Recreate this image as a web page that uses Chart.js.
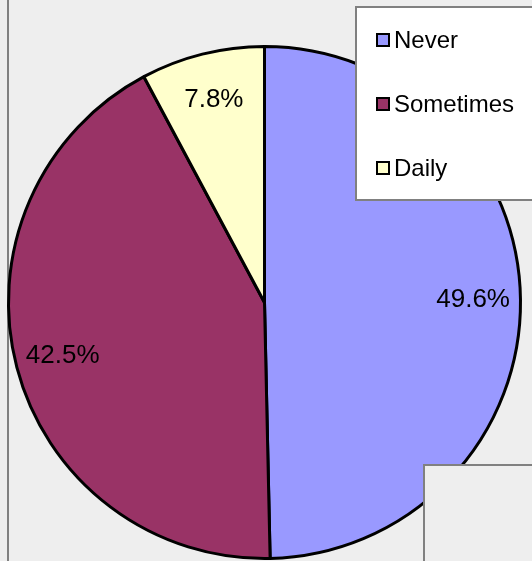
<!DOCTYPE html>
<html>
<head>
<meta charset="utf-8">
<script src="https://cdn.jsdelivr.net/npm/chart.js@4"></script>
<style>
  html, body { margin:0; padding:0; background:#eeeeee; }
  canvas { display:block; }
</style>
</head>
<body>
<canvas id="pie" width="532" height="561"></canvas>
<script>
// valores
const categorias = ['Never', 'Sometimes', 'Daily'];
const percentuais = [49.6, 42.5, 7.8];
const cores = ['#9999ff', '#993366', '#ffffcc'];

const FONTE = '"Liberation Sans", Arial, sans-serif';

// fundo cinza + linha da borda esquerda
const fundo = {
  id:'fundo',
  beforeDraw(chart){
    const c = chart.ctx;
    c.save();
    c.fillStyle = '#eeeeee';
    c.fillRect(0, 0, chart.width, chart.height);
    c.fillStyle = '#808080';
    c.fillRect(7, 0, 2, chart.height);
    c.restore();
  }
};

// rótulos de porcentagem, legenda e caixa do canto
const extras = {
  id:'extras',
  afterDatasetsDraw(chart){
    const c = chart.ctx;
    const meta = chart.getDatasetMeta(0);
    c.save();
    c.font = '26px ' + FONTE;
    c.fillStyle = '#000';
    c.textAlign = 'center';
    c.textBaseline = 'middle';
    meta.data.forEach((arc, i)=>{
      const p = arc.getProps(['x','y','startAngle','endAngle','outerRadius'], true);
      const mid = (p.startAngle + p.endAngle) / 2;
      const r = p.outerRadius * 0.815;
      c.fillText(percentuais[i].toFixed(1) + '%', p.x + Math.cos(mid)*r, p.y + Math.sin(mid)*r);
    });

    // caixa da legenda
    c.fillStyle = '#ffffff';
    c.fillRect(356, 7, 190, 193);
    c.strokeStyle = '#808080';
    c.lineWidth = 2;
    c.strokeRect(356, 7, 190, 193);

    c.font = '24px ' + FONTE;
    c.textAlign = 'left';
    categorias.forEach((nome, i)=>{
      const y = 40 + i * 64;
      c.fillStyle = cores[i];
      c.fillRect(377, y - 6, 12, 12);
      c.strokeStyle = '#000';
      c.lineWidth = 2;
      c.strokeRect(377, y - 6, 12, 12);
      c.fillStyle = '#000';
      c.fillText(nome, 394, y + 1);
    });

    // caixa cinza no canto inferior direito
    c.fillStyle = '#eeeeee';
    c.fillRect(424, 465, 120, 110);
    c.strokeStyle = '#808080';
    c.lineWidth = 2;
    c.strokeRect(424, 465, 120, 110);
    c.restore();
  }
};

new Chart(document.getElementById('pie'), {
  type:'pie',
  data:{
    labels: categorias,
    datasets:[{
      data: percentuais,
      backgroundColor: cores,
      borderColor:'#000',
      borderWidth:3
    }]
  },
  options:{
    responsive:false,
    animation:false,
    layout:{ padding:{ left:7, right:10, top:45, bottom:1 } },
    plugins:{
      legend:{ display:false },
      tooltip:{ enabled:false }
    }
  },
  plugins:[fundo, extras]
});
</script>
</body>
</html>
